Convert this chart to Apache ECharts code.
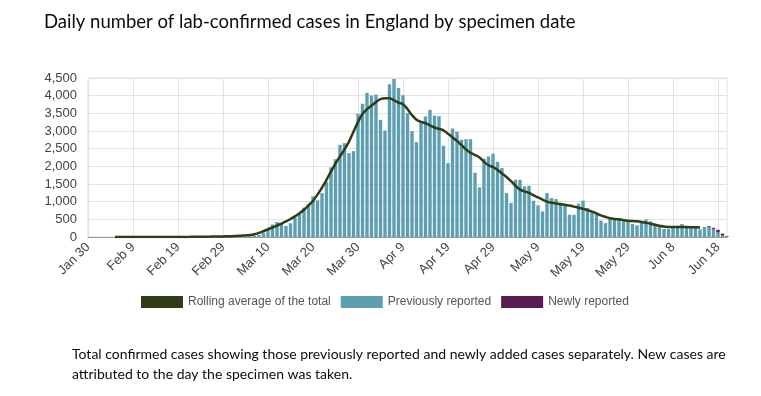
<!DOCTYPE html>
<html>
<head>
<meta charset="utf-8">
<script src="https://cdn.jsdelivr.net/npm/echarts@6/dist/echarts.min.js"></script>
<style>
html,body{margin:0;padding:0;background:#fff;}
#chart{width:761px;height:396px;}
</style>
</head>
<body>
<div id="chart"></div>
<script>
// Dates: one category per day, 30 Jan 2020 to 20 Jun 2020
var startDate = [2020, 0, 30];
var dayCount = 143;
var monthNames = ['Jan','Feb','Mar','Apr','May','Jun','Jul','Aug','Sep','Oct','Nov','Dec'];

// Previously reported cases by specimen date
var previouslyReported = [
  0,2,0,0,0,0,0,0,1,1,
  1,1,1,0,0,0,0,0,0,1,
  1,2,3,3,4,6,8,10,12,14,
  16,20,26,32,40,45,52,38,58,122,
  220,355,425,372,315,390,545,650,830,920,
  1150,1040,1240,1560,1970,2200,2609,2656,2374,2430,
  3485,3768,4079,4004,4032,3316,3014,4324,4474,4220,
  4013,3504,2996,2685,3280,3410,3598,3435,3420,2581,
  2091,3071,2977,2751,2769,2769,1818,1404,2214,2280,
  2355,2129,1950,1243,961,1620,1620,1432,1451,1027,
  895,725,1243,1102,1074,933,895,631,631,942,
  1027,820,725,690,465,390,525,537,537,443,
  443,367,330,443,490,443,367,301,226,226,
  300,301,367,301,301,301,215,283,270,230,
  130,40,0
];

// Newly reported cases
var newlyReported = [
  0,0,0,0,0,0,0,0,0,0,
  0,0,0,0,0,0,0,0,0,0,
  0,0,0,0,0,0,0,0,0,0,
  0,0,0,0,0,0,0,0,0,0,
  0,0,0,0,0,0,0,0,0,0,
  0,0,0,0,0,0,0,0,0,0,
  0,0,0,0,0,0,0,0,0,0,
  0,0,0,0,0,0,0,0,0,0,
  0,0,0,0,0,0,0,0,0,0,
  0,0,0,0,0,0,0,0,0,0,
  0,0,0,0,0,0,0,0,0,0,
  0,0,0,0,0,0,0,0,0,0,
  0,0,0,0,0,0,0,0,0,0,
  0,0,0,0,0,0,0,0,35,30,
  75,55,20
];

// Rolling average of the total
var rollingAverage = [
  null,null,null,null,null,null,1,1,1,1,
  1,1,1,1,1,1,1,1,1,1,
  2,2,3,4,5,6,8,10,12,14,
  17,20,24,30,38,46,57,80,115,165,
  220,268,320,380,440,510,585,670,770,895,
  1020,1200,1400,1620,1850,2080,2280,2480,2700,2980,
  3250,3480,3620,3720,3820,3900,3930,3930,3870,3800,
  3760,3620,3450,3320,3260,3220,3160,3100,3060,3020,
  2920,2820,2720,2600,2480,2380,2320,2250,2130,2030,
  1980,1900,1800,1700,1580,1450,1340,1290,1250,1180,
  1120,1060,1000,970,950,935,910,890,860,830,
  800,760,720,670,610,570,530,510,500,475,
  460,450,443,425,400,375,345,320,295,285,
  280,280,280,280,278,275,272,null,null,null,
  null,null,null
];

var categories = [];
for (var i = 0; i < dayCount; i++) {
  var dt = new Date(startDate[0], startDate[1], startDate[2] + i);
  categories.push(monthNames[dt.getMonth()] + ' ' + dt.getDate());
}

var axisFont = '"Liberation Sans", Arial, sans-serif';
var textFont = 'Lato, "Noto Sans", sans-serif';

var chart = echarts.init(document.getElementById('chart'), null, {renderer: 'canvas'});
chart.setOption({
  animation: false,
  backgroundColor: '#ffffff',
  title: {
    text: 'Daily number of lab-confirmed cases in England by specimen date',
    left: 44,
    top: 13,
    padding: 0,
    textStyle: {fontFamily: textFont, fontSize: 18.5, fontWeight: 'normal', color: '#0b0c0c'}
  },
  legend: {
    left: 141,
    top: 296,
    padding: 0,
    itemWidth: 42,
    itemHeight: 12,
    itemGap: 10,
    icon: 'rect',
    textStyle: {fontFamily: axisFont, fontSize: 12, color: '#555555'},
    data: ['Rolling average of the total', 'Previously reported', 'Newly reported']
  },
  grid: {
    left: 88, right: 34, top: 78, bottom: 159,
    show: true, borderColor: '#e1e1e1', borderWidth: 1
  },
  xAxis: {
    type: 'category',
    data: categories,
    boundaryGap: false,
    axisLine: {lineStyle: {color: '#9a9a9a'}},
    axisTick: {show: false},
    axisLabel: {
      interval: 9, rotate: 45, margin: 8,
      fontFamily: axisFont, fontSize: 13, color: '#444444'
    },
    splitLine: {show: true, interval: 9, lineStyle: {color: '#e1e1e1'}}
  },
  yAxis: {
    type: 'value',
    min: 0, max: 4500, interval: 500,
    axisLine: {show: false},
    axisTick: {show: false},
    axisLabel: {
      margin: 11,
      fontFamily: axisFont, fontSize: 13, color: '#444444',
      formatter: function (v) { return v.toLocaleString('en-GB'); }
    },
    splitLine: {lineStyle: {color: '#e1e1e1'}}
  },
  series: [
    {
      name: 'Previously reported',
      type: 'bar',
      stack: 'total',
      barWidth: 3.4,
      data: previouslyReported,
      itemStyle: {color: '#5d9fb1'}
    },
    {
      name: 'Newly reported',
      type: 'bar',
      stack: 'total',
      barWidth: 3.4,
      data: newlyReported,
      itemStyle: {color: '#581a52'}
    },
    {
      name: 'Rolling average of the total',
      type: 'line',
      data: rollingAverage,
      smooth: 0.3,
      showSymbol: false,
      symbol: 'none',
      connectNulls: false,
      lineStyle: {color: '#2f3c15', width: 2.5},
      itemStyle: {color: '#2f3c15'},
      z: 5
    }
  ],
  graphic: [
    {
      type: 'text', left: 72, top: 347,
      style: {
        text: 'Total confirmed cases showing those previously reported and newly added cases separately. New cases are',
        fontFamily: textFont, fontSize: 14, fill: '#0b0c0c'
      }
    },
    {
      type: 'text', left: 72, top: 367,
      style: {
        text: 'attributed to the day the specimen was taken.',
        fontFamily: textFont, fontSize: 14, fill: '#0b0c0c'
      }
    }
  ]
});
</script>
</body>
</html>
